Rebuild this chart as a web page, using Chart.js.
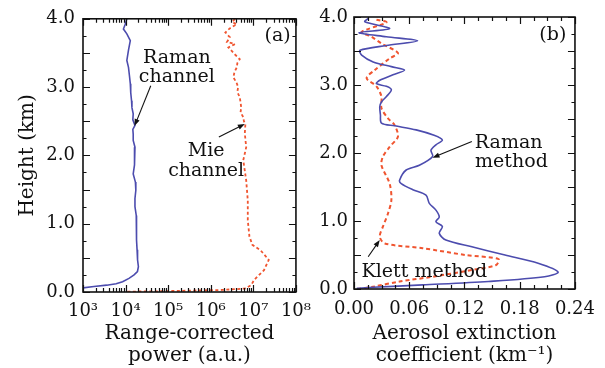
<!DOCTYPE html>
<html><head><meta charset="utf-8">
<script src="https://cdn.jsdelivr.net/npm/chart.js@4.4.0/dist/chart.umd.min.js"></script>
<style>
html,body{margin:0;padding:0;background:#fff;width:605px;height:368px;overflow:hidden;}
#wa{position:absolute;left:0;top:0;width:320px;height:368px;}
#wb{position:absolute;left:300px;top:0;width:305px;height:368px;}
</style></head><body>
<div id="wa"><canvas id="ca"></canvas></div>
<div id="wb"><canvas id="cb"></canvas></div>
<script>
// ---------- DATA: panel (a) ----------
const ramanChHeight = [4.00,3.92,3.85,3.78,3.68,3.54,3.39,3.29,3.17,3.05,2.92,2.80,2.70,2.61,2.52,2.44,2.38,2.31,2.22,2.12,1.98,1.86,1.73,1.61,1.49,1.37,1.25,1.12,1.00,0.88,0.76,0.62,0.47,0.37,0.30,0.25,0.20,0.15,0.12,0.10,0.08,0.06];
const ramanChPower  = [1.07e4,9.8e3,8.9e3,1.07e4,1.29e4,1.17e4,1.07e4,1.17e4,1.23e4,1.29e4,1.32e4,1.38e4,1.41e4,1.51e4,1.48e4,1.66e4,1.48e4,1.51e4,1.51e4,1.66e4,1.66e4,1.58e4,1.51e4,1.70e4,1.74e4,1.66e4,1.66e4,1.78e4,1.82e4,1.78e4,1.82e4,1.86e4,1.91e4,2.0e4,1.9e4,1.58e4,1.2e4,8.5e3,6.0e3,3.6e3,1.8e3,1.0e3];
const mieChHeight = [4.00,3.95,3.92,3.86,3.80,3.73,3.66,3.63,3.58,3.53,3.47,3.41,3.35,3.29,3.22,3.14,3.07,3.00,2.93,2.85,2.78,2.70,2.63,2.56,2.50,2.46,2.32,2.12,1.93,1.63,1.34,1.05,0.81,0.69,0.61,0.47,0.32,0.18,0.10,0.05,0.03,0.02,0.01,0.005];
const mieChPower  = [3.7e6,3.2e6,4.1e6,2.8e6,2.2e6,2.8e6,2.4e6,3.7e6,2.6e6,3.1e6,3.8e6,4.8e6,4.2e6,4.1e6,3.6e6,3.4e6,4.0e6,4.4e6,4.2e6,4.8e6,5.0e6,5.2e6,5.0e6,5.8e6,6.0e6,6.5e6,6.3e6,6.8e6,5.8e6,6.8e6,7.4e6,7.4e6,8.1e6,9.5e6,1.48e7,2.3e7,1.78e7,1.05e7,8.9e6,6.3e6,1.86e6,3.2e5,5.6e4,9.8e3];
const powerTickValues = [1e3,1e4,1e5,1e6,1e7,1e8];
const powerTickLabels = ['10\u00b3','10\u2074','10\u2075','10\u2076','10\u2077','10\u2078'];
const heightTickValues = [0,1,2,3,4];
const heightTickLabels = ['0.0','1.0','2.0','3.0','4.0'];

// ---------- DATA: panel (b) ----------
const ramanMHeight = [3.98,3.93,3.83,3.77,3.71,3.65,3.58,3.51,3.44,3.34,3.27,3.22,3.15,3.07,3.02,2.98,2.93,2.83,2.75,2.68,2.56,2.44,2.40,2.34,2.26,2.19,2.12,2.04,1.95,1.82,1.75,1.60,1.55,1.46,1.38,1.26,1.16,1.06,0.99,0.92,0.82,0.72,0.62,0.50,0.38,0.25,0.18,0.11,0.06,0.025,0.01];
const ramanMExt    = [0.0154,0.0118,0.0387,0.0055,0.035,0.069,0.035,0.0065,0.0083,0.0208,0.0406,0.0549,0.0423,0.028,0.0244,0.0352,0.0406,0.0352,0.0298,0.028,0.0287,0.0298,0.0441,0.0675,0.087,0.096,0.089,0.0836,0.0854,0.071,0.0567,0.0495,0.0513,0.0639,0.0782,0.0818,0.089,0.0926,0.089,0.096,0.0926,0.0998,0.128,0.164,0.200,0.2217,0.207,0.146,0.0746,0.0208,0.003];
const klettHeight = [3.96,3.92,3.78,3.71,3.61,3.47,3.39,3.22,3.10,2.98,2.83,2.66,2.51,2.41,2.24,2.09,1.95,1.82,1.55,1.31,1.11,0.92,0.77,0.67,0.60,0.50,0.44,0.35,0.28,0.18,0.11,0.034,0.0];
const klettExt    = [0.0244,0.0352,0.0083,0.019,0.0298,0.0477,0.0387,0.0226,0.0137,0.0244,0.0298,0.0298,0.0369,0.0441,0.0477,0.0387,0.0315,0.0298,0.0387,0.0406,0.0369,0.0315,0.028,0.0334,0.0746,0.121,0.157,0.154,0.128,0.0853,0.0495,0.0208,0.003];
const extTickValues = [0,0.06,0.12,0.18,0.24];
const extTickLabels = ['0.00','0.06','0.12','0.18','0.24'];

// ---------- styling ----------
const FONT = 'DejaVu Serif';
const BLUE = '#4c4cae';
const RED = '#f05530';
Chart.defaults.font.family = FONT;
Chart.defaults.color = '#111';

function pts(xs, ys){ return xs.map((x,i)=>({x:x, y:ys[i]})); }

const frameTicks = {
  id:'frameTicks',
  afterDatasetsDraw(chart, args, opts){
    const {ctx, chartArea:a, scales} = chart;
    const xs = scales.x, ys = scales.y;
    ctx.save();
    ctx.strokeStyle = '#111';
    ctx.lineWidth = 1.2;
    ctx.beginPath();
    for (const t of opts.xTicks){
      const px = Math.round(xs.getPixelForValue(t.v))+0.5;
      ctx.moveTo(px, a.bottom); ctx.lineTo(px, a.bottom - t.len);
      ctx.moveTo(px, a.top); ctx.lineTo(px, a.top + t.len);
    }
    for (const t of opts.yTicks){
      const py = Math.round(ys.getPixelForValue(t.v))+0.5;
      ctx.moveTo(a.left, py); ctx.lineTo(a.left + t.len, py);
      ctx.moveTo(a.right, py); ctx.lineTo(a.right - t.len, py);
    }
    ctx.stroke();
    ctx.lineWidth = 1.6;
    ctx.strokeRect(a.left, a.top, a.right-a.left, a.bottom-a.top);
    // annotations
    ctx.fillStyle = '#111';
    ctx.textAlign = 'center';
    ctx.textBaseline = 'middle';
    ctx.font = '19px "' + FONT + '"';
    for (const t of opts.texts){
      ctx.fillText(t.text, xs.getPixelForValue(t.x), ys.getPixelForValue(t.y));
    }
    for (const ar of opts.arrows){
      const x1 = xs.getPixelForValue(ar.x1), y1 = ys.getPixelForValue(ar.y1);
      const x2 = xs.getPixelForValue(ar.x2), y2 = ys.getPixelForValue(ar.y2);
      const ang = Math.atan2(y2-y1, x2-x1);
      const L = 7, W = 2.6;
      ctx.lineWidth = 1.1;
      ctx.beginPath(); ctx.moveTo(x1,y1); ctx.lineTo(x2 - Math.cos(ang)*L*0.8, y2 - Math.sin(ang)*L*0.8); ctx.stroke();
      ctx.beginPath();
      ctx.moveTo(x2,y2);
      ctx.lineTo(x2 - Math.cos(ang)*L + Math.sin(ang)*W, y2 - Math.sin(ang)*L - Math.cos(ang)*W);
      ctx.lineTo(x2 - Math.cos(ang)*L - Math.sin(ang)*W, y2 - Math.sin(ang)*L + Math.cos(ang)*W);
      ctx.closePath(); ctx.fill();
    }
    ctx.restore();
  }
};

// tick mark lists (axis decoration)
const logTicks = [];
for (let e=3; e<8; e++){ for (let m=1; m<10; m++){ logTicks.push({v:m*Math.pow(10,e), len: m===1?7:4}); } }
logTicks.push({v:1e8, len:7});
const hTicks = [];
for (let i=0;i<=16;i++){ const v=i*0.25; hTicks.push({v:v, len: (i%2===0)?7:3.5}); }
const eTicks = [];
for (let i=0;i<=16;i++){ const v=i*0.015; eTicks.push({v:v, len: (i%4===0)?7:4}); }

function yAxis(width, pad, withTitle){
  return {
    type:'linear', min:0, max:4,
    grid:{display:false, drawTicks:false}, border:{display:false},
    afterBuildTicks: s => { s.ticks = heightTickValues.map(v=>({value:v})); },
    ticks:{ font:{size:18}, padding:pad, autoSkip:false,
      callback:(v,i)=>heightTickLabels[i] },
    title:{ display:withTitle, text:'Height (km)', font:{size:20}, padding:{top:16, bottom:0} },
    afterFit: s => { s.width = width; }
  };
}

new Chart(document.getElementById('ca'), {
  type:'scatter',
  data:{ datasets:[
    { data: pts(ramanChPower, ramanChHeight), showLine:true, borderColor:BLUE, borderWidth:1.6, pointRadius:0, tension:0 },
    { data: pts(mieChPower, mieChHeight), showLine:true, borderColor:RED, borderWidth:1.8, borderDash:[3,2.5], pointRadius:0, tension:0 }
  ]},
  options:{
    responsive:true, maintainAspectRatio:false, animation:false,
    layout:{ padding:{top:18, right:16, left:0, bottom:0} },
    plugins:{ legend:{display:false}, tooltip:{enabled:false},
      frameTicks:{ xTicks:logTicks, yTicks:hTicks,
        texts:[ {text:'(a)', x:3.7e7, y:3.75}, {text:'Raman', x:1.6e5, y:3.42}, {text:'channel', x:1.6e5, y:3.15},
                {text:'Mie', x:7.8e5, y:2.07}, {text:'channel', x:7.8e5, y:1.77} ],
        arrows:[ {x1:3.9e4, y1:3.02, x2:1.62e4, y2:2.43}, {x1:1.55e6, y1:2.27, x2:6.3e6, y2:2.46} ] } },
    scales:{
      x:{ type:'logarithmic', min:1e3, max:1e8,
        grid:{display:false, drawTicks:false}, border:{display:false},
        afterBuildTicks: s => { s.ticks = powerTickValues.map(v=>({value:v})); },
        ticks:{ font:{size:18}, padding:9, autoSkip:false, maxRotation:0,
          callback:(v,i)=>powerTickLabels[i] },
        title:{ display:true, text:['Range-corrected','power (a.u.)'], font:{size:20, lineHeight:1.1}, padding:{top:0,bottom:1} },
        afterFit: s => { s.height = 76; }
      },
      y: yAxis(83, 8, true)
    }
  },
  plugins:[frameTicks]
});

new Chart(document.getElementById('cb'), {
  type:'scatter',
  data:{ datasets:[
    { data: pts(ramanMExt, ramanMHeight), showLine:true, borderColor:BLUE, borderWidth:1.6, pointRadius:0, tension:0.3 },
    { data: pts(klettExt, klettHeight), showLine:true, borderColor:RED, borderWidth:2, borderDash:[4,3], pointRadius:0, tension:0.3 }
  ]},
  options:{
    responsive:true, maintainAspectRatio:false, animation:false,
    layout:{ padding:{top:17, right:28, left:0, bottom:0} },
    plugins:{ legend:{display:false}, tooltip:{enabled:false},
      frameTicks:{ xTicks:eTicks, yTicks:hTicks,
        texts:[ {text:'(b)', x:0.216, y:3.74}, {text:'Raman', x:0.168, y:2.15}, {text:'method', x:0.171, y:1.87},
                {text:'Klett method', x:0.0764, y:0.25} ],
        arrows:[ {x1:0.128, y1:2.17, x2:0.0853, y2:1.93}, {x1:0.0154, y1:0.475, x2:0.028, y2:0.72} ] } },
    scales:{
      x:{ type:'linear', min:0, max:0.24,
        grid:{display:false, drawTicks:false}, border:{display:false},
        afterBuildTicks: s => { s.ticks = extTickValues.map(v=>({value:v})); },
        ticks:{ font:{size:18}, padding:10, autoSkip:false, maxRotation:0,
          callback:(v,i)=>extTickLabels[i] },
        title:{ display:true, text:['Aerosol extinction','coefficient (km\u207b\u00b9)'], font:{size:20, lineHeight:1.1}, padding:{top:0,bottom:1} },
        afterFit: s => { s.height = 79; }
      },
      y: yAxis(54, 6, false)
    }
  },
  plugins:[frameTicks]
});
</script>
</body></html>
